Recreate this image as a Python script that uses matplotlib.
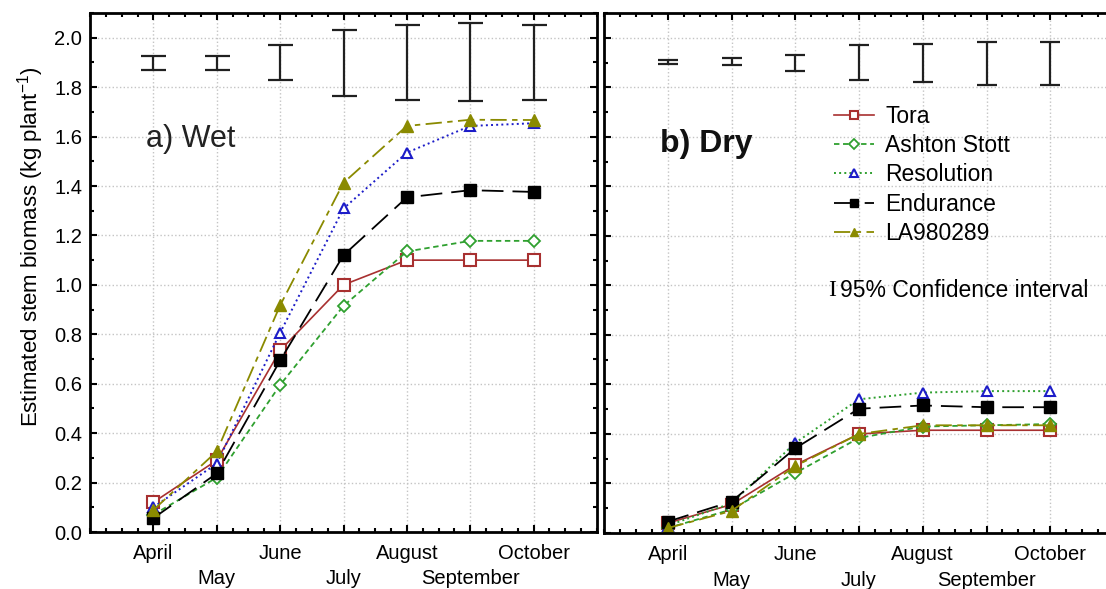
from matplotlib import pyplot as plt
from matplotlib.ticker import MultipleLocator
from matplotlib import transforms
import numpy as np

plt.rcParams['font.family'] = ['Liberation Sans', 'DejaVu Sans']
plt.rcParams['mathtext.fontset'] = 'custom'
plt.rcParams['mathtext.rm'] = 'Liberation Sans'
plt.rcParams['mathtext.it'] = 'Liberation Sans'

months = ['April', 'May', 'June', 'July', 'August', 'September', 'October']
top_row = ['April', '', 'June', '', 'August', '', 'October']
bottom_row = ['', 'May', '', 'July', '', 'September', '']

# wet treatment
tora_wet = [0.12, 0.29, 0.735, 1.00, 1.10, 1.10, 1.10]
ashton_wet = [0.07, 0.22, 0.595, 0.915, 1.135, 1.178, 1.178]
resolution_wet = [0.10, 0.277, 0.806, 1.309, 1.535, 1.643, 1.654]
endurance_wet = [0.056, 0.237, 0.694, 1.12, 1.354, 1.383, 1.376]
la_wet = [0.089, 0.326, 0.917, 1.413, 1.643, 1.668, 1.667]
ci_wet_lo = [1.869, 1.869, 1.83, 1.766, 1.75, 1.745, 1.75]
ci_wet_hi = [1.927, 1.927, 1.97, 2.03, 2.05, 2.06, 2.05]

# dry treatment
tora_dry = [0.04, 0.115, 0.275, 0.40, 0.415, 0.415, 0.415]
ashton_dry = [0.02, 0.095, 0.242, 0.384, 0.43, 0.435, 0.44]
resolution_dry = [0.03, 0.12, 0.364, 0.54, 0.567, 0.573, 0.573]
endurance_dry = [0.046, 0.127, 0.342, 0.502, 0.515, 0.508, 0.508]
la_dry = [0.02, 0.089, 0.27, 0.40, 0.435, 0.435, 0.435]
ci_dry_lo = [1.893, 1.888, 1.866, 1.83, 1.82, 1.81, 1.81]
ci_dry_hi = [1.91, 1.917, 1.93, 1.969, 1.976, 1.983, 1.983]

names = ['Tora', 'Ashton Stott', 'Resolution', 'Endurance', 'LA980289']
red = '#a83030'
green = '#2fa02f'
blue = '#1c1cc8'
olive = '#8a8a00'

fig = plt.figure(figsize=(11.06, 5.89), dpi=100)
W, H = 1106.0, 589.0
ax = fig.add_axes([90 / W, (H - 532) / H, (597 - 90) / W, (532 - 13) / H])
ax1 = fig.add_axes([604 / W, (H - 533) / H, (1114 - 604) / W, (533 - 13) / H])

x = np.arange(len(months))


def draw(a, tora, ashton, res, endu, la, lo, hi, res_line, cap):
    a.plot(x, tora, '-', color=red, lw=1.2, marker='s', ms=8, mfc='white',
           mec=red, mew=1.5, label=names[0])
    a.plot(x, ashton, '--', color=green, lw=1.3, dashes=(3, 2), marker='D', ms=6.5,
           mfc='white', mec=green, mew=1.3, label=names[1])
    a.plot(x, res, ':', color=res_line, lw=1.4, marker='^', ms=7.5, mfc='white',
           mec=blue, mew=1.5, label=names[2])
    a.plot(x, endu, '-', color='black', lw=1.3, dashes=(12, 5), marker='s', ms=8,
           mfc='black', mec='black', label=names[3])
    a.plot(x, la, '-', color=olive, lw=1.3, dashes=(9, 3, 3, 3), marker='^', ms=8,
           mfc=olive, mec=olive, label=names[4])
    lo = np.array(lo)
    hi = np.array(hi)
    mid = (lo + hi) / 2
    a.errorbar(x, mid, yerr=(hi - lo) / 2, fmt='none', ecolor='#202020',
               elinewidth=1.6, capsize=cap, capthick=1.6)
    a.set_xlim(-1, 7)
    a.set_ylim(0, 2.1)
    a.set_xticks(x)
    a.set_xticklabels(top_row, fontsize=14.5)
    # second row of month names
    trans = transforms.blended_transform_factory(a.transData, a.transAxes)
    for i, m in enumerate(bottom_row):
        if m:
            a.annotate(m, (x[i], 0), xycoords=trans, xytext=(0, -27),
                       textcoords='offset points', ha='center', va='top',
                       fontsize=14.5, annotation_clip=False)
    a.xaxis.set_minor_locator(MultipleLocator(0.25))
    a.yaxis.set_major_locator(MultipleLocator(0.2))
    a.yaxis.set_minor_locator(MultipleLocator(0.1))
    a.grid(True, which='major', ls=':', color='#c4c4c4', lw=1)
    a.tick_params(which='both', direction='in', top=True, right=True, width=1.5)
    a.tick_params(which='major', length=5, pad=8.5)
    a.tick_params(which='minor', length=3)
    for s in a.spines.values():
        s.set_linewidth(2)


draw(ax, tora_wet, ashton_wet, resolution_wet, endurance_wet, la_wet,
     ci_wet_lo, ci_wet_hi, blue, 9)
draw(ax1, tora_dry, ashton_dry, resolution_dry, endurance_dry, la_dry,
     ci_dry_lo, ci_dry_hi, green, 7.5)

ax.set_yticklabels(['%.1f' % v for v in ax.get_yticks()], fontsize=14.5)
ax.tick_params(axis='y', pad=5.5)
ax.set_ylabel('Estimated stem biomass (kg plant$^{-1}$)', fontsize=16, labelpad=6, y=0.55)
ax1.tick_params(axis='y', labelleft=False)

ax.text(-0.12, 1.59, 'a) Wet', fontsize=22, va='center', ha='left', color='#222222')
ax1.text(-0.12, 1.57, 'b) Dry', fontsize=23, fontweight='bold', va='center', ha='left',
         color='#111111')

ax1.legend(loc='upper left', bbox_to_anchor=(2.6, 1.73), bbox_transform=ax1.transData,
           frameon=False, fontsize=16.5, handlelength=1.75, handletextpad=0.5,
           labelspacing=0.28, borderpad=0, borderaxespad=0, markerscale=0.75)

ax1.text(2.52, 0.98, 'I', family='Liberation Serif', fontsize=17, va='center', ha='left')
ax1.text(2.7, 0.98, '95% Confidence interval', fontsize=16.5, va='center', ha='left')

fig.savefig('out.png', dpi=100)
